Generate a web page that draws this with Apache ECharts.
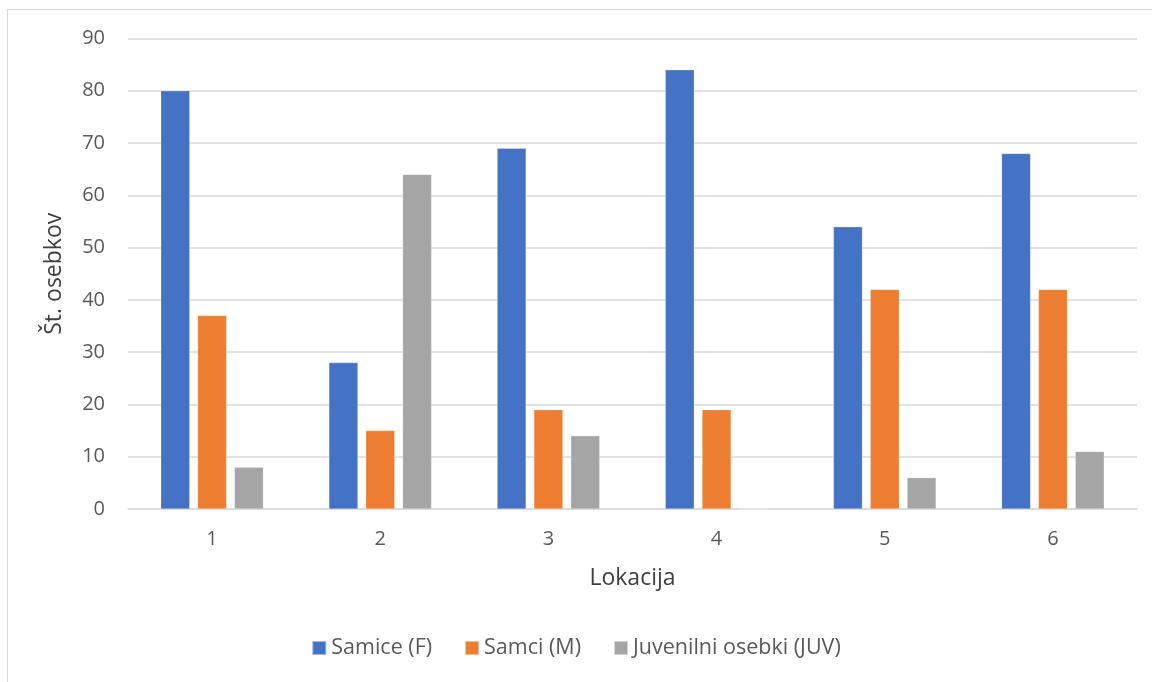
<!DOCTYPE html>
<html>
<head>
<meta charset="utf-8">
<script src="https://cdn.jsdelivr.net/npm/echarts@6/dist/echarts.min.js"></script>
<style>
  html, body { margin: 0; padding: 0; background: #fff; }
  #frame { position: absolute; left: 7px; top: 9px; width: 1160px; height: 690px; border: 1.5px solid #d9d9d9; box-sizing: border-box; }
  #chart { position: absolute; left: 0; top: 0; width: 1152px; height: 682px; }
</style>
</head>
<body>
<div id="frame"></div>
<div id="chart"></div>
<script>
const categories = ['1', '2', '3', '4', '5', '6'];
const samice = [80, 28, 69, 84, 54, 68];
const samci = [37, 15, 19, 19, 42, 42];
const juvenilni = [8, 64, 14, 0, 6, 11];
const seriesNames = ['Samice (F)', 'Samci (M)', 'Juvenilni osebki (JUV)'];
const colors = ['#4472C4', '#ED7D31', '#A5A5A5'];

const FONT = '"Open Sans", Lato, sans-serif';
const chart = echarts.init(document.getElementById('chart'), null, { renderer: 'canvas' });
const mk = (name, data, color) => ({
  name, type: 'bar', data,
  barWidth: 29, barGap: '27%',
  itemStyle: { color, borderColor: 'rgba(255,255,255,0.5)', borderWidth: 0.5 }
});
chart.setOption({
  animation: false,
  backgroundColor: 'transparent',
  textStyle: { fontFamily: FONT },
  color: colors,
  grid: { left: 128, right: 15, top: 38.5, bottom: 173, containLabel: false },
  legend: {
    bottom: 18, left: 'center',
    itemWidth: 14, itemHeight: 14, itemGap: 32,
    icon: 'rect',
    textStyle: { fontSize: 21.5, color: '#595959', fontFamily: FONT },
    data: seriesNames
  },
  xAxis: {
    type: 'category', data: categories,
    name: 'Lokacija', nameLocation: 'middle', nameGap: 58,
    nameTextStyle: { fontSize: 23, color: '#404040', fontFamily: FONT },
    axisLine: { lineStyle: { color: '#d9d9d9', width: 1.5 } },
    axisTick: { show: false },
    axisLabel: { fontSize: 20, color: '#595959', margin: 20, fontFamily: FONT }
  },
  yAxis: {
    type: 'value', min: 0, max: 90, interval: 10,
    name: 'Št. osebkov', nameLocation: 'middle', nameGap: 62, nameRotate: 90,
    nameTextStyle: { fontSize: 23, color: '#404040', fontFamily: FONT },
    axisLine: { show: false }, axisTick: { show: false },
    splitLine: { lineStyle: { color: '#d9d9d9', width: 1.5 } },
    axisLabel: { fontSize: 20, color: '#595959', margin: 23, fontFamily: FONT }
  },
  series: [
    mk(seriesNames[0], samice, colors[0]),
    mk(seriesNames[1], samci, colors[1]),
    mk(seriesNames[2], juvenilni, colors[2])
  ]
});
</script>
</body>
</html>
